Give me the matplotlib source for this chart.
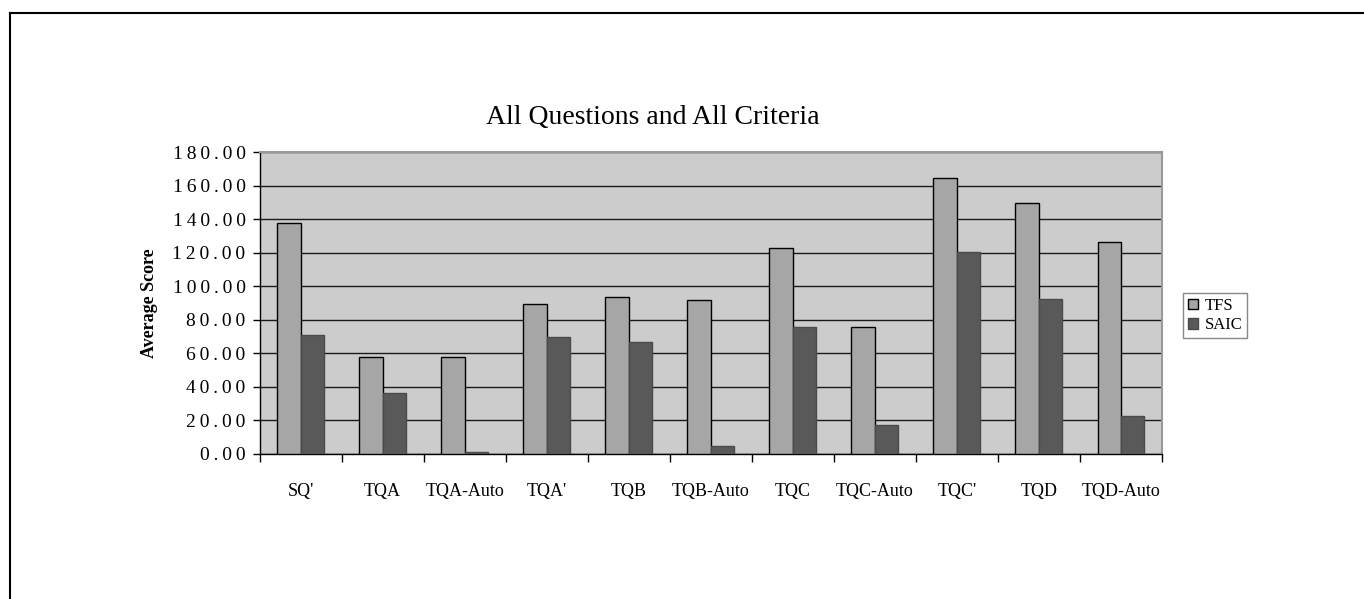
import matplotlib.pyplot as plt
import numpy as np
from matplotlib.lines import Line2D

categories = ["SQ'", "TQA", "TQA-Auto", "TQA'", "TQB", "TQB-Auto",
              "TQC", "TQC-Auto", "TQC'", "TQD", "TQD-Auto"]
tfs = [138.0, 58.1, 58.1, 89.7, 93.7, 92.1, 122.7, 75.6, 164.5, 149.6, 126.3]
saic = [71.0, 36.4, 1.0, 69.8, 67.0, 4.8, 75.6, 17.3, 120.3, 92.3, 22.5]

plt.rcParams['font.family'] = ['Liberation Serif', 'DejaVu Serif']

W, H = 1364, 599
fig = plt.figure(figsize=(W / 100, H / 100), dpi=100)

# frame lines on the left and top of the figure
fx, fy = 10 / W, 1 - 12.5 / H
fig.add_artist(Line2D([fx, fx], [0, fy], color='black', lw=1.5, transform=fig.transFigure))
fig.add_artist(Line2D([fx, 1], [fy, fy], color='black', lw=1.5, transform=fig.transFigure))

ax = fig.add_axes([259.5 / W, 1 - 454 / H, (1162 - 259.5) / W, (454 - 152.3) / H])
ax.set_facecolor('#cccccc')

x = np.arange(len(categories))
w = 1 / 3.5
ax.bar(x - w / 2, tfs, w, color='#a6a6a6', edgecolor='black', lw=1, zorder=3, label='TFS')
ax.bar(x + w / 2, saic, w, color='#595959', edgecolor='#4a4a4a', lw=1, zorder=3, label='SAIC')

ax.set_xlim(-0.5, len(categories) - 0.5)
ax.set_ylim(0, 180)

yt = np.arange(0, 181, 20)
ax.set_yticks(yt)
ax.set_yticklabels(['\u2009'.join(f"{v:.2f}") for v in yt], fontsize=14)
ax.tick_params(axis='y', direction='out', length=5, width=1, pad=5)
ax.yaxis.grid(True, color='#1a1a1a', lw=1)
ax.set_axisbelow(True)

ax.set_xticks(np.arange(-0.5, len(categories), 1))
ax.set_xticklabels([])
ax.set_xticks(x, minor=True)
ax.set_xticklabels(categories, minor=True, fontsize=13)
ax.tick_params(axis='x', which='major', direction='out', length=6, width=1)
ax.tick_params(axis='x', which='minor', length=0, pad=21)

for s in ['left', 'bottom']:
    ax.spines[s].set_color('black')
    ax.spines[s].set_linewidth(1)
for s in ['top', 'right']:
    ax.spines[s].set_color('#999999')
    ax.spines[s].set_linewidth(1.5)

fig.text(150 / W, 1 - 303 / H, 'Average Score', rotation=90, fontsize=13,
         fontweight='bold', ha='center', va='center')
fig.text(653 / W, 1 - 118 / H, 'All Questions and All Criteria', fontsize=20,
         ha='center', va='center')

fig.legend(loc='upper left', bbox_to_anchor=(1183 / W, 1 - 293 / H), fontsize=12,
           frameon=True, fancybox=False, edgecolor='#888888', framealpha=1,
           handlelength=0.6, handleheight=0.6, handletextpad=0.4,
           borderpad=0.3, labelspacing=0.2, borderaxespad=0)

fig.savefig('out.png', dpi=100)
